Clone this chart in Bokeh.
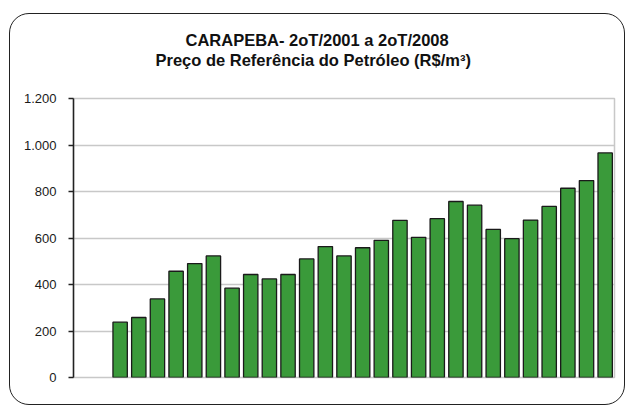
from bokeh.plotting import figure
from bokeh.models import FactorRange, Range1d, FixedTicker, Title, ColumnDataSource
from bokeh.embed import file_html
from bokeh.resources import INLINE

# ---- data ----
quarters = ["2T/2001", "3T/2001", "4T/2001",
            "1T/2002", "2T/2002", "3T/2002", "4T/2002",
            "1T/2003", "2T/2003", "3T/2003", "4T/2003",
            "1T/2004", "2T/2004", "3T/2004", "4T/2004",
            "1T/2005", "2T/2005", "3T/2005", "4T/2005",
            "1T/2006", "2T/2006", "3T/2006", "4T/2006",
            "1T/2007", "2T/2007", "3T/2007", "4T/2007",
            "1T/2008", "2T/2008"]
price = [float("nan"), float("nan"),
         238, 258, 338, 457, 490, 523, 384, 443, 424, 443, 510, 563, 523,
         558, 590, 676, 603, 683, 757, 741, 637, 597, 677, 736, 814, 847, 966]
y_ticks = [0, 200, 400, 600, 800, 1000, 1200]
y_tick_labels = ["0", "200", "400", "600", "800", "1.000", "1.200"]
title_lines = ["CARAPEBA- 2oT/2001 a 2oT/2008",
               "Preço de Referência do Petróleo (R$/m³)"]

src = ColumnDataSource(dict(q=quarters, v=price))

p = figure(width=616, height=392,
           x_range=FactorRange(factors=quarters),
           y_range=Range1d(0, 1200),
           output_backend="svg", toolbar_location=None,
           min_border_left=63, min_border_right=12,
           min_border_top=84, min_border_bottom=29)
p.styles = {"border": "1.5px solid #222222", "border-radius": "20px",
            "margin-left": "9px", "margin-top": "13px"}

p.vbar(x="q", top="v", width=0.77, source=src,
       fill_color="#3a9a3a", line_color="#1a1a1a", line_width=1.3)

p.xaxis.visible = False
p.xgrid.grid_line_color = None
p.ygrid.grid_line_color = "#c8c8c8"
p.ygrid.grid_line_width = 1.5
p.ygrid.ticker = FixedTicker(ticks=y_ticks)
p.outline_line_color = "#c8c8c8"
p.outline_line_width = 1.5

ya = p.yaxis[0]
ya.ticker = FixedTicker(ticks=y_ticks)
ya.major_label_overrides = {t: l for t, l in zip(y_ticks, y_tick_labels)}
ya.axis_line_color = "#222222"
ya.axis_line_width = 1.5
ya.major_tick_line_color = "#222222"
ya.major_tick_line_width = 1.5
ya.major_tick_out = 5
ya.major_tick_in = 0
ya.minor_tick_line_color = None
ya.major_label_standoff = 12
ya.major_label_text_font = "Liberation Sans"
ya.major_label_text_font_size = "13px"
ya.major_label_text_color = "#1a1a1a"

title_style = dict(text_font="Liberation Sans", text_font_style="bold",
                   text_font_size="16.5px", text_color="#111111")
# spacer between the title block and the frame
p.add_layout(Title(text=" ", standoff=10, **title_style), "above")
# second line, then first line above it
p.add_layout(Title(text=title_lines[1], align="left", offset=82,
                   standoff=0, **title_style), "above")
p.add_layout(Title(text=title_lines[0], align="left", offset=112,
                   standoff=0, **title_style), "above")

p.background_fill_color = "white"
p.border_fill_alpha = 0

open("out.html", "w").write(file_html(p, INLINE))
